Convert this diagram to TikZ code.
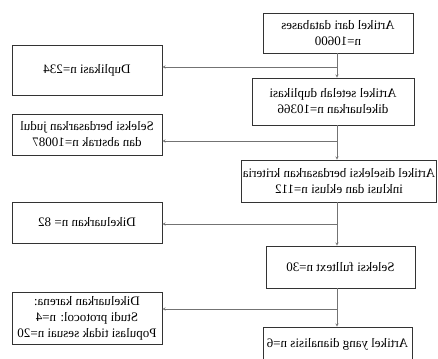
\documentclass[tikz,border=0pt]{standalone}
\usepackage{fontspec}
\setmainfont{Liberation Serif}
\begin{document}
\begin{tikzpicture}[x=1pt, y=-1pt, xscale=-1, every node/.append style={transform shape},
	font=\fontsize{13}{16}\selectfont, >=stealth,
	kotak/.style 2 args={draw=black!80, line width=.6pt, minimum width=#1, minimum height=#2, align=center, inner sep=0pt},
	panah/.style={->, draw=black!55, line width=.5pt}]
	\useasboundingbox (0,0) rectangle (438,358);
	\clip (0,0) rectangle (438,358);
	% kolom utama
	\node[kotak={150}{40}] (awal) at (100,33) {Artikel dari databases\\n=10600};
	\node[kotak={162}{47}] (dupout) at (105,101.5) {Artikel setelah duplikasi\\dikeluarkan n=10366};
	\node[kotak={195}{42}] (kriteria) at (99,181) {Artikel diseleksi berdasarkan kriteria\\inklusi dan eklusi n=112};
	\node[kotak={149}{42}] (fulltext) at (97.5,267) {Seleksi fulltext n=30};
	\node[kotak={149}{34}] (akhir) at (100.5,344) {Artikel yang dianalisis n=6};
	% kolom samping
	\node[kotak={150}{50}] (dup) at (351,70) {Duplikasi n=234};
	\node[kotak={150}{41}] (judul) at (351,134.5) {Seleksi berdasarkan judul\\dan abstrak n=10087};
	\node[kotak={150}{41}] (keluar) at (351,222.5) {Dikeluarkan n= 82};
	\node[kotak={150}{52}] (karena) at (351,318) {Dikeluarkan karena:\\Studi protocol: n=4\\Populasi tidak sesuai n=20};
	% garis
	\coordinate (k1) at (101,67);
	\coordinate (k2) at (101,141);
	\coordinate (k3) at (101,224);
	\coordinate (k4) at (101,309);
	\draw[panah] (awal.south -| k1) -- (dupout.north -| k1);
	\draw[panah] (dupout.south -| k2) -- (kriteria.north -| k2);
	\draw[panah] (kriteria.south -| k3) -- (fulltext.north -| k3);
	\draw[panah] (fulltext.south -| k4) -- (akhir.north -| k4);
	\draw[panah] (k1) -- (k1 -| dup.west);
	\draw[panah] (k2) -- (k2 -| judul.west);
	\draw[panah] (k3) -- (k3 -| keluar.west);
	\draw[panah] (k4) -- (k4 -| karena.west);
\end{tikzpicture}
\end{document}
